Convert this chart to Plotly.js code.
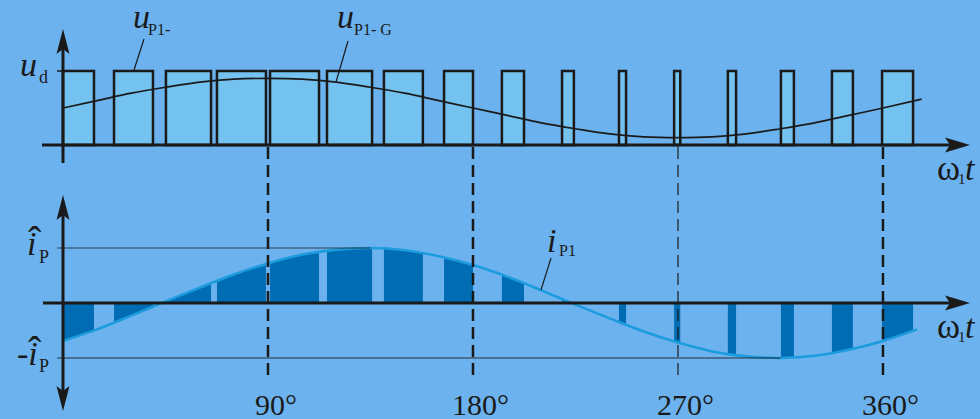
<!DOCTYPE html>
<html>
<head>
<meta charset="utf-8">
<script src="https://cdn.plot.ly/plotly-3.0.1.min.js"></script>
<style>
  html, body { margin: 0; padding: 0; background: #6CB2EE; }
  #chart { width: 980px; height: 419px; }
</style>
</head>
<body>
<div id="chart"></div>
<script>
// Switching pulses of the phase leg (electrical degrees): on-interval edges
const pulseStart = [0.0, 22.4, 45.2, 67.6, 90.9, 115.9, 140.9, 167.3, 192.7, 219.1, 244.1, 268.3, 291.9, 315.2, 337.6, 359.6];
const pulseEnd   = [13.6, 39.5, 65.0, 89.1, 112.4, 135.7, 158.0, 180.0, 202.4, 224.3, 247.2, 271.0, 295.5, 320.9, 346.8, 373.2];
const pulseLevel = 1;            // u_d, normalised

// Averaged pole voltage u_P1-G (fraction of u_d)
const uTheta = [0, 15, 30, 45, 60, 75, 90, 105, 120, 135, 150, 165, 180, 195, 210, 225, 240, 255, 270, 285, 300, 315, 330, 345, 360, 377];
const uValue = [0.50, 0.60, 0.70, 0.78, 0.85, 0.89, 0.90, 0.89, 0.85, 0.78, 0.70, 0.60, 0.50, 0.40, 0.30, 0.22, 0.15, 0.11, 0.10, 0.11, 0.15, 0.22, 0.30, 0.40, 0.50, 0.62];

// Phase current i_P1 (fraction of its peak î_P)
const iTheta = [0, 15, 30, 45, 60, 75, 90, 105, 120, 135, 150, 165, 180, 195, 210, 225, 240, 255, 270, 285, 300, 315, 330, 345, 360, 375];
const iValue = [-0.69, -0.48, -0.23, 0.03, 0.28, 0.52, 0.72, 0.88, 0.97, 1.00, 0.96, 0.85, 0.69, 0.48, 0.23, -0.03, -0.28, -0.52, -0.72, -0.88, -0.97, -1.00, -0.96, -0.85, -0.69, -0.48];
const iPeakAt = 135, iTroughAt = 315;

// Angle markers along the time axis
const markDeg = [90, 180, 270, 360];
const markLabel = ['90°', '180°', '270°', '360°'];
const markWidth = [2.5, 2.5, 1.2, 2.5];

const W = 980, H = 419;
const BG = '#6CB2EE', INK = '#1a1a1a';
const PX = x => x / W;            // page pixel -> paper x
const PY = y => 1 - y / H;        // page pixel -> paper y
const SERIF = 'Liberation Serif, Times New Roman, serif';

const traces = [];

// Top panel: pulse train as bars from 0 to u_d
traces.push({
  type: 'bar', xaxis: 'x', yaxis: 'y',
  x: pulseStart.map((s, k) => (s + pulseEnd[k]) / 2),
  width: pulseStart.map((s, k) => pulseEnd[k] - s),
  y: pulseStart.map(() => pulseLevel),
  base: 0,
  marker: { color: '#74C2F0', line: { color: INK, width: 2.5 } },
  hoverinfo: 'skip'
});
traces.push({
  type: 'scatter', mode: 'lines', xaxis: 'x', yaxis: 'y',
  x: uTheta, y: uValue,
  line: { color: INK, width: 1.7, shape: 'spline' },
  hoverinfo: 'skip'
});

// Bottom panel: area under the current during the on-intervals
traces.push({
  type: 'scatter', mode: 'lines', xaxis: 'x', yaxis: 'y2',
  x: iTheta, y: iValue, fill: 'tozeroy', fillcolor: '#006CB4',
  line: { color: 'rgba(0,0,0,0)', width: 0, shape: 'spline' },
  hoverinfo: 'skip'
});
// off-intervals show the plain background
pulseEnd.forEach((e, k) => {
  const next = k < pulseStart.length - 1 ? pulseStart[k + 1] : 385;
  traces.push({
    type: 'scatter', mode: 'lines', xaxis: 'x', yaxis: 'y2',
    x: [e, next, next, e, e], y: [-1.25, -1.25, 1.25, 1.25, -1.25],
    fill: 'toself', fillcolor: BG, line: { width: 0, color: BG },
    hoverinfo: 'skip'
  });
});
traces.push({
  type: 'scatter', mode: 'lines', xaxis: 'x', yaxis: 'y2',
  x: iTheta, y: iValue,
  line: { color: '#1C9CDD', width: 2.6, shape: 'spline' },
  hoverinfo: 'skip'
});

const shapes = [];
function line(x0, y0, x1, y1, w, color, dash) {
  shapes.push({ type: 'line', xref: 'paper', yref: 'paper',
    x0: PX(x0), y0: PY(y0), x1: PX(x1), y1: PY(y1),
    line: { color: color || INK, width: w, dash: dash || 'solid' } });
}
function poly(pts) {
  const d = pts.map((p, i) => (i ? 'L' : 'M') + PX(p[0]).toFixed(5) + ',' + PY(p[1]).toFixed(5)).join(' ') + ' Z';
  shapes.push({ type: 'path', xref: 'paper', yref: 'paper', path: d,
    fillcolor: INK, line: { width: 0 } });
}
function arrowRight(xt, y) { poly([[xt, y], [xt - 25, y - 7.5], [xt - 20, y], [xt - 25, y + 7.5]]); }
function arrowUp(x, yt) { poly([[x, yt], [x - 6.5, yt + 25], [x, yt + 20], [x + 6.5, yt + 25]]); }
function arrowDown(x, yt) { poly([[x, yt], [x - 6.5, yt - 25], [x, yt - 20], [x + 6.5, yt - 25]]); }

// reference levels î_P and -î_P
shapes.push({ type: 'line', xref: 'x', yref: 'y2', x0: -2.6, x1: iPeakAt, y0: 1, y1: 1,
  line: { color: 'rgba(25,25,25,0.75)', width: 1.2 } });
shapes.push({ type: 'line', xref: 'x', yref: 'y2', x0: -2.6, x1: iTroughAt, y0: -1, y1: -1,
  line: { color: 'rgba(25,25,25,0.85)', width: 1.2 } });

// angle markers
markDeg.forEach((d, k) => {
  shapes.push({ type: 'line', xref: 'x', yref: 'paper', x0: d, x1: d, y0: PY(147), y1: PY(380),
    line: { color: INK, width: markWidth[k], dash: '12px,6px' } });
});

// axes
line(42, 145, 952, 145, 3);
arrowRight(970, 145);
line(63, 45, 63, 163, 3);
arrowUp(63, 29);
line(57, 71, 63, 71, 1.5);
line(43, 303, 952, 303, 3);
arrowRight(970, 303);
line(63, 210, 63, 396, 3);
arrowUp(63, 195);
arrowDown(63, 411);

// leader lines for the curve labels
line(144, 39, 134, 70, 1.2);
line(348, 41, 336, 82, 1.2);
line(551, 258, 541, 290, 1.2);

const annotations = [];
function txt(t, x, baseline, size, opts) {
  opts = opts || {};
  annotations.push(Object.assign({
    text: t, xref: 'paper', yref: 'paper', x: PX(x), y: PY(baseline - 0.338 * size),
    xanchor: 'left', yanchor: 'middle', showarrow: false,
    font: { family: SERIF, size: size, color: INK }
  }, opts));
}
// u_d
txt('<i>u</i>', 18, 76, 34);
txt('d', 37, 83, 18);
// u_P1-
txt('<i>u</i>', 131, 28, 34);
txt('P1-', 146, 35, 16);
// u_P1- G
txt('<i>u</i>', 335, 28, 34);
txt('P1- G', 352, 35, 16);
// i_P1
txt('<i>i</i>', 545, 252, 34);
txt('P1', 557, 256, 16);
// î_P
txt('<i>i</i>', 25, 255, 34);
txt('P', 37, 263, 18);
txt('ˆ', 34.5, 254, 40, { xanchor: 'center' });
// -î_P
txt('-<i>i</i>', 15, 365, 34);
txt('P', 37, 372, 18);
txt('ˆ', 34.5, 364, 40, { xanchor: 'center' });
// ω1t, both panels
[180, 338].forEach(b => {
  txt('ω', 935, b, 35);
  txt('1', 956, b + 4, 15);
  txt('<i>t</i>', 963, b, 34);
});
// degree labels
markDeg.forEach((d, k) => {
  annotations.push({
    text: markLabel[k], xref: 'x', yref: 'paper', x: d, y: PY(415 - 0.338 * 30),
    xanchor: 'center', yanchor: 'middle', xshift: 8, showarrow: false,
    font: { family: SERIF, size: 30, color: INK }
  });
});

const layout = {
  width: W, height: H,
  margin: { l: 0, r: 0, t: 0, b: 0, pad: 0 },
  paper_bgcolor: BG, plot_bgcolor: BG,
  showlegend: false,
  xaxis: { range: [-27.66, 402.6], visible: false, fixedrange: true },
  yaxis: { range: [-3.703, 1.9595], visible: false, fixedrange: true },
  yaxis2: { range: [-2.109, 5.509], visible: false, overlaying: 'y', fixedrange: true },
  shapes: shapes,
  annotations: annotations
};

Plotly.newPlot('chart', traces, layout, { staticPlot: true, displayModeBar: false });
</script>
</body>
</html>
